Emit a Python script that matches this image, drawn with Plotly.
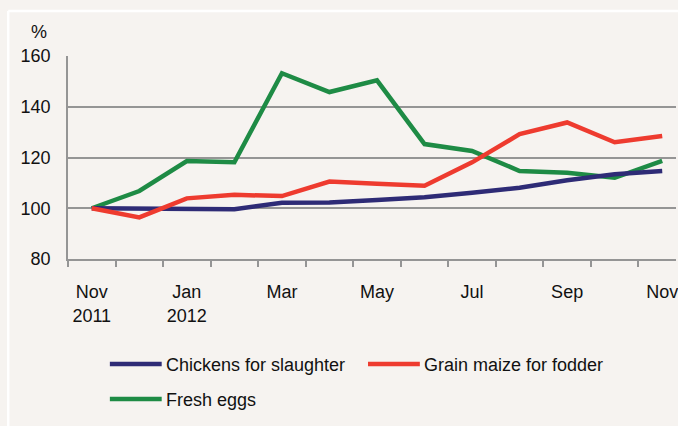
import plotly.graph_objects as go

months = ["Nov 2011", "Dec 2011", "Jan 2012", "Feb 2012", "Mar 2012", "Apr 2012", "May 2012",
          "Jun 2012", "Jul 2012", "Aug 2012", "Sep 2012", "Oct 2012", "Nov 2012"]
tick_text = ["Nov<br>2011", "", "Jan<br>2012", "", "Mar", "", "May", "", "Jul", "", "Sep", "", "Nov"]

chickens = [100, 100, 100, 99.6, 102.2, 102.3, 103.3, 104.3, 106.1, 108.1, 111.0, 113.4, 114.7]
maize = [100, 96.4, 103.9, 105.3, 104.8, 110.5, 109.7, 108.9, 118.1, 129.2, 133.8, 126.0, 128.5]
eggs = [100, 106.8, 118.6, 118.1, 153.2, 145.8, 150.4, 125.3, 122.6, 114.7, 114.0, 112.0, 118.7]

y_ticks = [80, 100, 120, 140, 160]

names = ["Chickens for slaughter", "Grain maize for fodder", "Fresh eggs"]
colors = ["#2E2B76", "#EE3B2F", "#1E8B45"]

FONT = "Liberation Sans, Arial, sans-serif"
FS = 18
BG = "#F6F3F0"
GRID = "#959595"

fig = go.Figure()
for name, col, vals in [(names[2], colors[2], eggs), (names[0], colors[0], chickens), (names[1], colors[1], maize)]:
    fig.add_trace(go.Scatter(x=months, y=vals, mode="lines", name=name,
                             line=dict(color=col, width=4.5), showlegend=False))

W, H = 678, 426
ml, mr, mt, mb = 68, 0, 56, 167
pw, ph = W - ml - mr, H - mt - mb

def px(x):
    return (x - ml) / pw

def py(y):
    return (H - mb - y) / ph

shapes = []
annotations = []
# legend (manual)
legend_items = [(names[0], colors[0], 110, 364), (names[1], colors[1], 369, 364), (names[2], colors[2], 110, 399)]
for name, col, x0, y0 in legend_items:
    shapes.append(dict(type="line", xref="paper", yref="paper", x0=px(x0), x1=px(x0 + 52),
                       y0=py(y0), y1=py(y0), line=dict(color=col, width=4.5)))
    annotations.append(dict(text=name, xref="paper", yref="paper", x=px(x0 + 54), y=py(y0 + 1),
                            xanchor="left", yanchor="middle", showarrow=False,
                            font=dict(family=FONT, size=FS, color="#111111")))
# white frame lines
shapes.append(dict(type="line", xref="paper", yref="paper", x0=px(8), x1=px(W + 2), y0=py(11), y1=py(11),
                   line=dict(color="white", width=2.5)))
shapes.append(dict(type="line", xref="paper", yref="paper", x0=px(8), x1=px(8), y0=py(11), y1=py(H + 2),
                   line=dict(color="white", width=2.5)))
annotations.append(dict(text="%", xref="paper", yref="paper", x=px(39), y=py(32), xanchor="center",
                        yanchor="middle", showarrow=False, font=dict(family=FONT, size=FS, color="#111111")))

fig.update_layout(
    width=W, height=H,
    margin=dict(l=ml, r=mr, t=mt, b=mb, pad=0),
    paper_bgcolor=BG, plot_bgcolor=BG,
    font=dict(family=FONT, size=FS, color="#111111"),
    shapes=shapes, annotations=annotations,
    xaxis=dict(type="category", tickmode="array", tickvals=months, ticktext=tick_text,
               tickson="boundaries", ticks="outside", ticklen=6, tickcolor=GRID, tickwidth=1.5,
               showline=True, linecolor=GRID, linewidth=1.5, showgrid=False,
               range=[-0.5, 12.29], tickangle=0, fixedrange=True, ticklabelstandoff=16),
    yaxis=dict(range=[80, 160], tickvals=y_ticks, showgrid=True, gridcolor=GRID, gridwidth=1.5,
               showline=True, linecolor=GRID, linewidth=1.5, ticks="", zeroline=False,
               ticklabelstandoff=12, fixedrange=True),
)

fig.write_html("out.html", config={"displayModeBar": False},
               post_script="document.body.style.margin='0';document.body.style.background='%s';" % BG)
